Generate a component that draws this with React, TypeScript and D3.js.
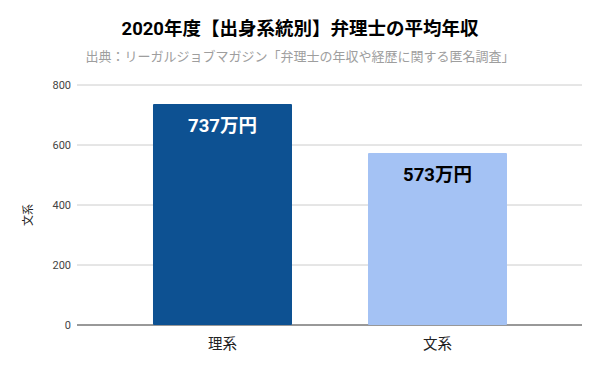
import React from "react";
import * as d3 from "d3";

const categories = ["理系", "文系"];
const values = [737, 573];
const valueLabels = ["737万円", "573万円"];
const yTicks = [0, 200, 400, 600, 800];
const barColors = ["#0d5192", "#a4c2f4"];
const labelColors = ["#ffffff", "#000000"];

const W = 600;
const H = 371;
const font = "Roboto, 'Noto Sans CJK JP', sans-serif";

export default function App() {
  const y = d3.scaleLinear().domain([0, 800]).range([325, 85]);
  const x = d3
    .scaleBand<string>()
    .domain(categories)
    .range([115, 545])
    .paddingInner(0.3535)
    .paddingOuter(0.1767);

  return (
    <svg
      width={W}
      height={H}
      style={{ position: "absolute", left: 0, top: 0, fontFamily: font }}
    >
      <rect width={W} height={H} fill="#fff" />
      <text
        x={300}
        y={35}
        textAnchor="middle"
        fontSize={18.5}
        fontWeight="bold"
        fill="#000"
      >
        2020年度【出身系統別】弁理士の平均年収
      </text>
      <text x={300} y={61} textAnchor="middle" fontSize={13} fill="#9e9e9e">
        出典：リーガルジョブマガジン「弁理士の年収や経歴に関する匿名調査」
      </text>
      {yTicks.map((t) => (
        <g key={t}>
          <line
            x1={77}
            x2={582}
            y1={y(t)}
            y2={y(t)}
            stroke={t === 0 ? "#333" : "#ccc"}
            strokeWidth={1}
          />
          <text
            x={71}
            y={y(t) + 4}
            textAnchor="end"
            fontSize={11}
            fill="#444"
          >
            {t}
          </text>
        </g>
      ))}
      {categories.map((c, i) => (
        <g key={c}>
          <rect
            x={x(c)}
            y={y(values[i])}
            width={x.bandwidth()}
            height={y(0) - y(values[i])}
            fill={barColors[i]}
            rx={1}
          />
          <text
            x={(x(c) as number) + x.bandwidth() / 2}
            y={y(values[i]) + 28}
            textAnchor="middle"
            fontSize={18.5}
            fontWeight="bold"
            fill={labelColors[i]}
          >
            {valueLabels[i]}
          </text>
          <text
            x={(x(c) as number) + x.bandwidth() / 2}
            y={349}
            textAnchor="middle"
            fontSize={14.5}
            fill="#222"
          >
            {c}
          </text>
        </g>
      ))}
      <text
        transform={`translate(32,215) rotate(-90)`}
        textAnchor="middle"
        fontSize={11}
        fill="#222"
      >
        文系
      </text>
    </svg>
  );
}
